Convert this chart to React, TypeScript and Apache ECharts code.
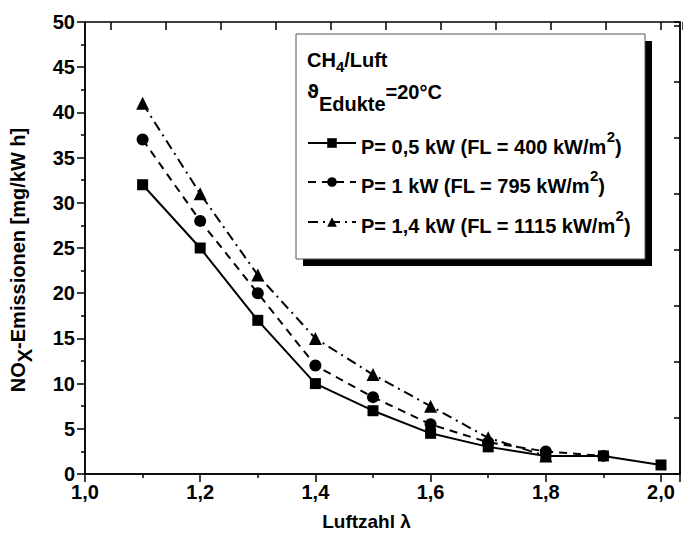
import React, { useEffect, useRef } from "react";
import * as echarts from "echarts";

const lambda = [1.1, 1.2, 1.3, 1.4, 1.5, 1.6, 1.7, 1.8, 1.9, 2.0];
const p05 = [32, 25, 17, 10, 7, 4.5, 3, 2, 2, 1];
const p1 = [37, 28, 20, 12, 8.5, 5.5, 3.5, 2.5, 2];
const p14 = [41, 31, 22, 15, 11, 7.5, 4, 2];

const seriesNames = [
  "P= 0,5 kW (FL = 400 kW/m2)",
  "P= 1 kW (FL = 795 kW/m2)",
  "P= 1,4 kW (FL = 1115 kW/m2)",
];
const xTickLabels = ["1,0", "1,2", "1,4", "1,6", "1,8", "2,0"];
const yTickLabels = ["0", "5", "10", "15", "20", "25", "30", "35", "40", "45", "50"];

const FONT = "Liberation Sans";

function pairs(vals: number[]) {
  return vals.map((v, i) => [lambda[i], v]);
}

export default function App() {
  const ref = useRef<HTMLDivElement>(null);
  useEffect(() => {
    if (!ref.current) return;
    const chart = echarts.init(ref.current, undefined, { renderer: "svg" });
    const bold = { fontFamily: FONT, fontWeight: "bold" as const, color: "#000" };
    const legendRich = {
      n: { ...bold, fontSize: 20, lineHeight: 28, verticalAlign: "bottom" },
      sup: { ...bold, fontSize: 15, lineHeight: 14, verticalAlign: "top" },
    };
    const legendFmt = (name: string) =>
      "{n|" + name.slice(0, -2) + "}{sup|2}{n|)}";
    const mkLegend = (name: string, top: number) => ({
      data: [name],
      left: 307,
      top,
      padding: 0,
      itemWidth: 48,
      itemHeight: 12,
      formatter: legendFmt,
      selectedMode: false,
      textStyle: { ...bold, fontSize: 20, rich: legendRich },
    });
    const axisLineStyle = { color: "#000", width: 1.5 };
    chart.setOption({
      animation: false,
      backgroundColor: "#fff",
      grid: [
        { left: 84, right: 0, top: 22, bottom: 66, show: true, borderColor: "#000", borderWidth: 1.5, backgroundColor: "transparent" },
        { left: 111, right: 0, top: 22, bottom: 66 },
      ],
      xAxis: [
        {
          type: "value",
          gridIndex: 0,
          min: 1.0,
          max: 2.033,
          interval: 0.2,
          name: "Luftzahl λ",
          nameLocation: "middle",
          nameGap: 38,
          nameTextStyle: { ...bold, fontSize: 19, padding: [0, 32, 0, 0] },
          axisLine: { show: true, onZero: false, lineStyle: axisLineStyle },
          axisTick: { show: true, inside: false, length: 8, lineStyle: axisLineStyle },
          minorTick: { show: true, splitNumber: 2, length: 4, lineStyle: axisLineStyle },
          splitLine: { show: false },
          axisLabel: {
            ...bold,
            fontSize: 20,
            margin: 8,
            formatter: (v: number) => {
              const k = Math.round((v - 1) / 0.2);
              return Math.abs(v - (1 + k * 0.2)) < 1e-6 && xTickLabels[k] ? xTickLabels[k] : "";
            },
          },
        },
        {
          type: "value",
          gridIndex: 1,
          position: "top",
          min: 0,
          max: 10.4,
          interval: 1,
          axisLine: { show: false, onZero: false },
          axisTick: { show: true, inside: true, length: 8, lineStyle: axisLineStyle },
          axisLabel: { show: false },
          splitLine: { show: false },
        },
      ],
      yAxis: [
        {
          type: "value",
          gridIndex: 0,
          min: 0,
          max: 50,
          interval: 5,
          name: "NO{sub|X}-Emissionen [mg/kW h]",
          nameLocation: "middle",
          nameGap: 50,
          nameRotate: 90,
          nameTextStyle: {
            ...bold,
            fontSize: 20,
            padding: [0, 24, 0, 0],
            rich: {
              sub: { ...bold, fontSize: 20, verticalAlign: "bottom", lineHeight: 34 },
            },
          },
          axisLine: { show: true, onZero: false, lineStyle: axisLineStyle },
          axisTick: { show: true, inside: false, length: 8, lineStyle: axisLineStyle },
          minorTick: { show: true, splitNumber: 2, length: 4, lineStyle: axisLineStyle },
          splitLine: { show: false },
          axisLabel: {
            ...bold,
            fontSize: 20,
            margin: 10,
            formatter: (v: number) => yTickLabels[Math.round(v / 5)] ?? "",
          },
        },
        {
          type: "value",
          gridIndex: 0,
          position: "right",
          min: 0,
          max: 8.07,
          interval: 1,
          axisLine: { show: true, onZero: false, lineStyle: axisLineStyle },
          axisTick: { show: true, inside: true, length: 6, lineStyle: axisLineStyle },
          axisLabel: { show: false },
          splitLine: { show: false },
        },
        { type: "value", gridIndex: 1, show: false, min: 0, max: 1 },
      ],
      legend: [mkLegend(seriesNames[0], 129), mkLegend(seriesNames[1], 168), mkLegend(seriesNames[2], 208)],
      graphic: [
        { type: "rect", z: 1, shape: { x: 303, y: 41, width: 349, height: 225 }, style: { fill: "#000" } },
        { type: "rect", z: 2, shape: { x: 296, y: 34, width: 349, height: 225 }, style: { fill: "#fff", stroke: "#555", lineWidth: 1 } },
        {
          type: "text",
          z: 3,
          x: 307,
          y: 60,
          style: {
            text: "{n|CH}{sub|4}{n|/Luft}",
            verticalAlign: "middle",
            rich: {
              n: { ...bold, fontSize: 20, lineHeight: 28, verticalAlign: "middle" },
              sub: { ...bold, fontSize: 15, lineHeight: 20, verticalAlign: "bottom" },
            },
          },
        },
        {
          type: "text",
          z: 3,
          x: 307,
          y: 98,
          style: {
            text: "{t|ϑ}{sub|Edukte}{n|=20°C}",
            verticalAlign: "middle",
            rich: {
              t: { fontFamily: "DejaVu Sans", fontWeight: "bold", color: "#000", fontSize: 18, lineHeight: 30, verticalAlign: "top" },
              n: { ...bold, fontSize: 20, lineHeight: 30, verticalAlign: "top" },
              sub: { ...bold, fontSize: 20, lineHeight: 32, verticalAlign: "bottom" },
            },
          },
        },
      ],
      series: [
        {
          name: seriesNames[0],
          type: "line",
          xAxisIndex: 0,
          yAxisIndex: 0,
          data: pairs(p05),
          symbol: "rect",
          symbolSize: 11,
          itemStyle: { color: "#000" },
          lineStyle: { color: "#000", width: 2, type: "solid" },
          z: 5,
        },
        {
          name: seriesNames[1],
          type: "line",
          xAxisIndex: 0,
          yAxisIndex: 0,
          data: pairs(p1),
          symbol: "circle",
          symbolSize: 12,
          itemStyle: { color: "#000" },
          lineStyle: { color: "#000", width: 2, type: [8, 6] },
          z: 4,
        },
        {
          name: seriesNames[2],
          type: "line",
          xAxisIndex: 0,
          yAxisIndex: 0,
          data: pairs(p14),
          symbol: "triangle",
          symbolSize: 13,
          itemStyle: { color: "#000" },
          lineStyle: { color: "#000", width: 2, type: [10, 5, 2, 5] },
          z: 3,
        },
        {
          name: "frame",
          type: "line",
          xAxisIndex: 1,
          yAxisIndex: 2,
          data: [],
          silent: true,
        },
      ],
    });
    return () => chart.dispose();
  }, []);
  return <div ref={ref} style={{ position: "fixed", left: 0, top: 0, width: 683, height: 540 }} />;
}
